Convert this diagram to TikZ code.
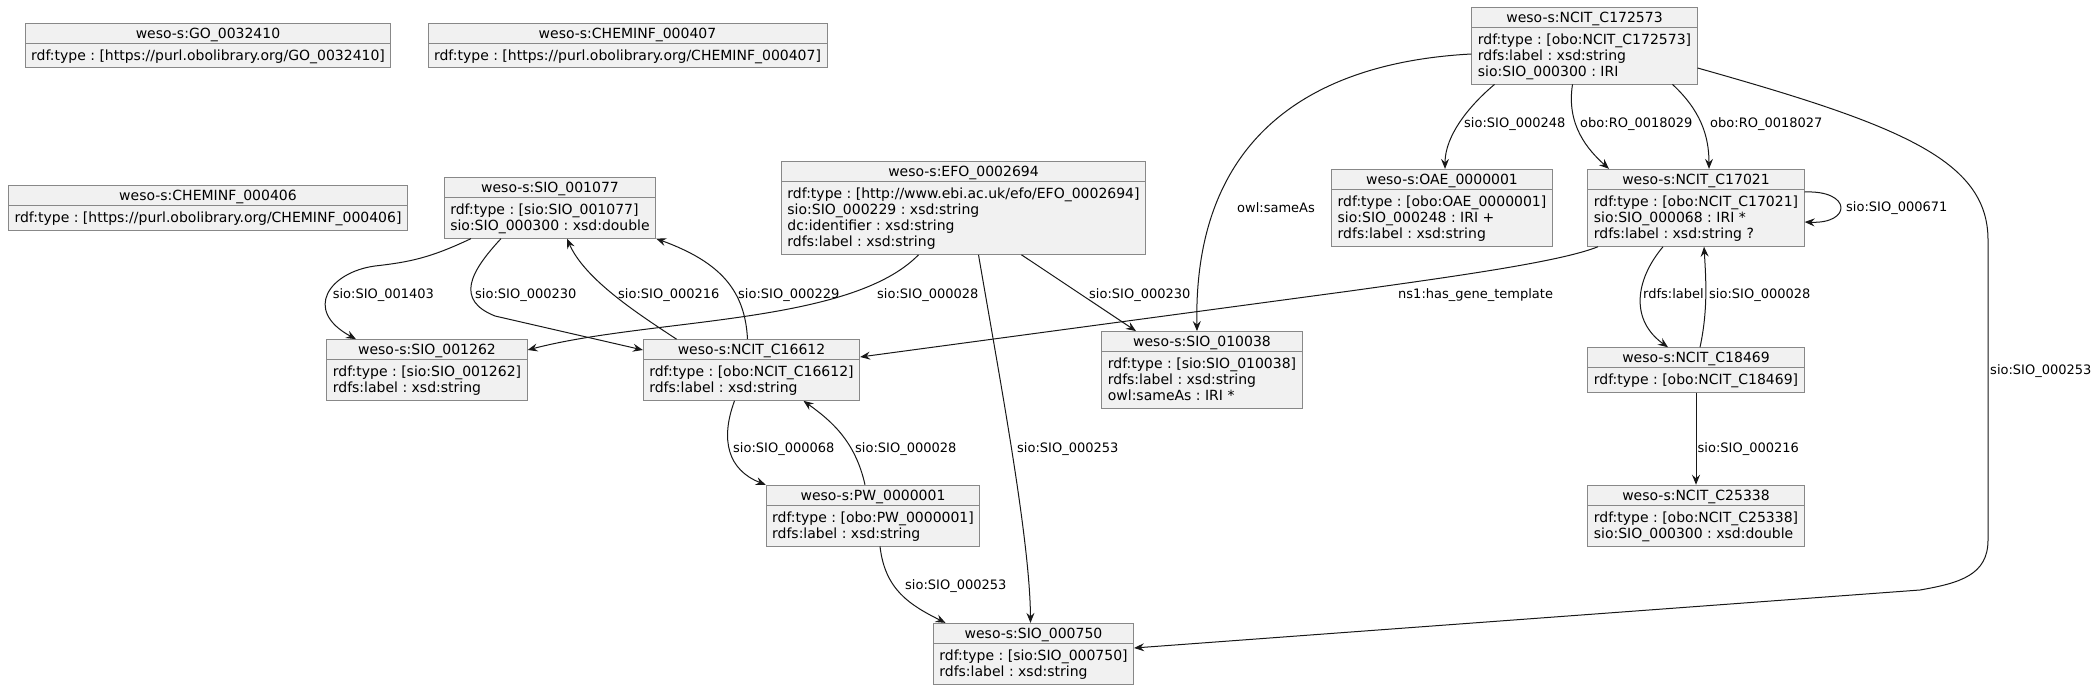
\documentclass[tikz,border=0pt]{standalone}
\usepackage{fontspec}
\setmainfont{DejaVu Sans}
\usetikzlibrary{arrows.meta}
\frenchspacing

\definecolor{boxfill}{HTML}{F1F1F1}
\definecolor{boxline}{HTML}{888888}
\definecolor{edgeline}{HTML}{181818}

% class box: centred name, then the attribute lines
\newcommand{\umlclass}[2]{\begin{tabular}{@{}l@{}}\multicolumn{1}{@{}c@{}}{\rule{0pt}{12.3pt}#1}\\[5.8pt] #2\end{tabular}}

\begin{document}
\begin{tikzpicture}[x=1pt, y=-1pt]
    \tikzstyle{cls} = [rectangle, draw=boxline, line width=0.9pt, fill=boxfill, inner xsep=6pt, inner ysep=2.7pt, font=\fontsize{14}{16.2}\selectfont,
        path picture={\draw [boxline, line width=0.9pt] ([yshift=-20pt]path picture bounding box.north west) -- ([yshift=-20pt]path picture bounding box.north east);}]
    \tikzstyle{elabel} = [font=\fontsize{13}{15}\selectfont, inner sep=0pt, anchor=base west]
    \tikzstyle{arrow} = [draw=edgeline, line width=1pt, -{Stealth[length=10pt, width=8pt, inset=3.5pt]}]

    \fill [white] (0,0) rectangle (2098,690);
    \useasboundingbox (0,0) rectangle (2098,690);

    % Top row
    \node [cls] (go) at (208,45.5) {\umlclass{weso-s:GO\_0032410}{rdf:type : [https://purl.obolibrary.org/GO\_0032410]}};
    \node [cls] (chem407) at (627.5,45.5) {\umlclass{weso-s:CHEMINF\_000407}{rdf:type : [https://purl.obolibrary.org/CHEMINF\_000407]}};
    \node [cls] (c172573) at (1584.5,45.5) {\umlclass{weso-s:NCIT\_C172573}{rdf:type : [obo:NCIT\_C172573]\\ rdfs:label : xsd:string\\ sio:SIO\_000300 : IRI}};

    % Second row
    \node [cls] (chem406) at (208,207.8) {\umlclass{weso-s:CHEMINF\_000406}{rdf:type : [https://purl.obolibrary.org/CHEMINF\_000406]}};
    \node [cls] (sio1077) at (550,207.8) {\umlclass{weso-s:SIO\_001077}{rdf:type : [sio:SIO\_001077]\\ sio:SIO\_000300 : xsd:double}};
    \node [cls] (efo) at (963.5,207.8) {\umlclass{weso-s:EFO\_0002694}{rdf:type : [http://www.ebi.ac.uk/efo/EFO\_0002694]\\ sio:SIO\_000229 : xsd:string\\ dc:identifier : xsd:string\\ rdfs:label : xsd:string}};
    \node [cls] (oae) at (1442,207.8) {\umlclass{weso-s:OAE\_0000001}{rdf:type : [obo:OAE\_0000001]\\ sio:SIO\_000248 : IRI +\\ rdfs:label : xsd:string}};
    \node [cls] (c17021) at (1696,207.8) {\umlclass{weso-s:NCIT\_C17021}{rdf:type : [obo:NCIT\_C17021]\\ sio:SIO\_000068 : IRI *\\ rdfs:label : xsd:string ?}};

    % Third row
    \node [cls] (sio1262) at (427,370) {\umlclass{weso-s:SIO\_001262}{rdf:type : [sio:SIO\_001262]\\ rdfs:label : xsd:string}};
    \node [cls] (c16612) at (751.5,370) {\umlclass{weso-s:NCIT\_C16612}{rdf:type : [obo:NCIT\_C16612]\\ rdfs:label : xsd:string}};
    \node [cls] (sio10038) at (1202,370) {\umlclass{weso-s:SIO\_010038}{rdf:type : [sio:SIO\_010038]\\ rdfs:label : xsd:string\\ owl:sameAs : IRI *}};
    \node [cls] (c18469) at (1696,370) {\umlclass{weso-s:NCIT\_C18469}{rdf:type : [obo:NCIT\_C18469]}};

    % Bottom rows
    \node [cls] (pw) at (873,515.6) {\umlclass{weso-s:PW\_0000001}{rdf:type : [obo:PW\_0000001]\\ rdfs:label : xsd:string}};
    \node [cls] (c25338) at (1696,515.6) {\umlclass{weso-s:NCIT\_C25338}{rdf:type : [obo:NCIT\_C25338]\\ sio:SIO\_000300 : xsd:double}};
    \node [cls] (sio750) at (1033.5,653.7) {\umlclass{weso-s:SIO\_000750}{rdf:type : [sio:SIO\_000750]\\ rdfs:label : xsd:string}};

    % Links from NCIT_C172573
    \draw [arrow] ([xshift=-90pt]c172573.south) .. controls (1470,105) and (1445,135) .. ([xshift=3pt]oae.north);
    \draw [arrow] ([xshift=-12pt]c172573.south) .. controls (1566,125) and (1588,150) .. ([xshift=-87pt]c17021.north);
    \draw [arrow] ([xshift=88pt]c172573.south) .. controls (1700,110) and (1709,135) .. ([xshift=13pt]c17021.north);
    \draw [arrow] ([yshift=-8.5pt]c172573.west) .. controls (1320,62) and (1193,130) .. ([xshift=-5pt]sio10038.north);
    \draw [arrow] ([yshift=-22.5pt]c172573.east) .. controls (1900,125) and (1988,160) .. (1988,240) -- (1988,540)
        .. controls (1988,575) and (1960,583) .. (1920,590) -- ([yshift=5.7pt]sio750.east);
    \node [elabel] (l248) at (1464,127.7) {sio:SIO\_000248};
    \node [elabel] (l029) at (1580,127.7) {obo:RO\_0018029};
    \node [elabel] (l027) at (1710,127.7) {obo:RO\_0018027};
    \node [elabel] (lsame) at (1237,212.7) {owl:sameAs};
    \node [elabel] (l253a) at (1990,374.7) {sio:SIO\_000253};

    % Links from NCIT_C17021 and NCIT_C18469
    \draw [arrow] ([yshift=15.8pt]c17021.east) .. controls (1852,190) and (1852,224) .. ([yshift=-14.2pt]c17021.east);
    \draw [arrow] ([xshift=-98pt]c17021.south) .. controls (1560,262) and (1450,277) .. (1350,291) -- ([yshift=13pt]c16612.east);
    \draw [arrow] ([xshift=-33pt]c17021.south) .. controls (1635,280) and (1630,320) .. ([xshift=-28pt]c18469.north);
    \draw [arrow] ([xshift=4pt]c18469.north) .. controls (1708,310) and (1706,280) .. ([xshift=8pt]c17021.south);
    \draw [arrow] (c18469) -- (c25338);
    \node [elabel] (l671) at (1846,211.7) {sio:SIO\_000671};
    \node [elabel] (lgene) at (1398,298.7) {ns1:has\_gene\_template};
    \node [elabel] (lrdfs) at (1643,298.7) {rdfs:label};
    \node [elabel] (l028a) at (1709,298.7) {sio:SIO\_000028};
    \node [elabel] (l216a) at (1697.5,452.5) {sio:SIO\_000216};

    % Links around SIO_001077 and EFO_0002694
    \draw [arrow] ([xshift=-79pt]sio1077.south) .. controls (430,258) and (410,262) .. (375,266)
        .. controls (330,272) and (302,310) .. ([xshift=-71pt]sio1262.north);
    \draw [arrow] ([xshift=-49pt]sio1077.south) .. controls (470,272) and (455,300) .. (495,316) -- ([yshift=20pt]c16612.west);
    \draw [arrow] ([xshift=-75pt]c16612.north) .. controls (640,315) and (585,280) .. ([xshift=17pt]sio1077.south);
    \draw [arrow] ([xshift=-4pt]c16612.north) .. controls (745,290) and (720,262) .. (sio1077.south east);
    \draw [arrow] ([xshift=-45pt]efo.south) .. controls (850,325) and (650,318) .. ([yshift=20pt]sio1262.east);
    \draw [arrow] ([xshift=58pt]efo.south) -- ([xshift=-66pt]sio10038.north);
    \draw [arrow] ([xshift=15pt]efo.south) .. controls (1000,380) and (1030,540) .. ([xshift=-3pt]sio750.north);
    \node [elabel] (l403) at (332.6,298.7) {sio:SIO\_001403};
    \node [elabel] (l230a) at (475,298.7) {sio:SIO\_000230};
    \node [elabel] (l216b) at (618,298.7) {sio:SIO\_000216};
    \node [elabel] (l229) at (738,298.7) {sio:SIO\_000229};
    \node [elabel] (l028b) at (877,298.7) {sio:SIO\_000028};
    \node [elabel] (l230b) at (1089,298.7) {sio:SIO\_000230};
    \node [elabel] (l253b) at (1017,452.5) {sio:SIO\_000253};

    % Links around PW_0000001
    \draw [arrow] ([xshift=-17pt]c16612.south) .. controls (720,440) and (728,470) .. (pw.north west);
    \draw [arrow] ([xshift=-8pt]pw.north) .. controls (855,440) and (830,420) .. ([xshift=52pt]c16612.south);
    \draw [arrow] ([xshift=7pt]pw.south) .. controls (885,590) and (910,605) .. ([xshift=-88pt]sio750.north);
    \node [elabel] (l068) at (733,452.5) {sio:SIO\_000068};
    \node [elabel] (l028c) at (855,452.5) {sio:SIO\_000028};
    \node [elabel] (l253c) at (905,589.7) {sio:SIO\_000253};
\end{tikzpicture}
\end{document}
